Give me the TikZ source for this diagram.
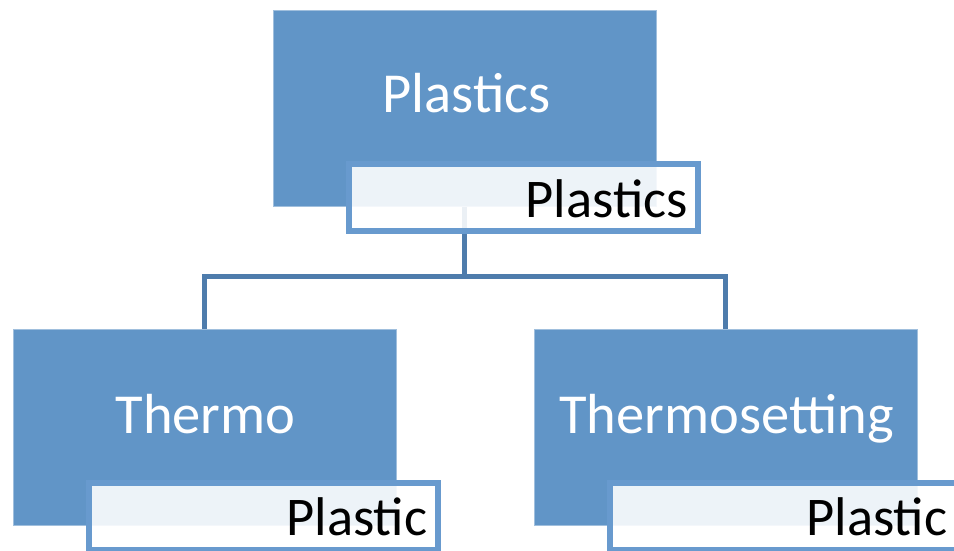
\documentclass[tikz,border=0pt]{standalone}
\usepackage{fontspec}
\setmainfont{Carlito}
\definecolor{boxblue}{RGB}{97,149,199}
\definecolor{edgeblue}{RGB}{104,154,206}
\definecolor{linkblue}{RGB}{78,124,172}
\tikzset{
  bigbox/.style={rectangle, fill=boxblue, draw=boxblue!60!white, line width=0.8pt,
    minimum width=383pt, minimum height=196pt, inner sep=0pt},
  tagbox/.style={rectangle, fill=white, fill opacity=0.89, draw=edgeblue, draw opacity=1,
    line width=6pt, minimum width=349pt, minimum height=67pt, inner sep=0pt},
  headtext/.style={text=white, font=\fontsize{56.5}{62}\selectfont, inner sep=0pt},
  tagtext/.style={text=black, font=\fontsize{54.5}{60}\selectfont, inner sep=0pt},
  link/.style={draw=linkblue, line width=5.5pt}
}
\begin{document}
\begin{tikzpicture}[x=1pt, y=-1pt]
\useasboundingbox (0,0) rectangle (954,551);
\clip (0,0) rectangle (954,551);
\fill[white] (0,0) rectangle (954,551);

% main boxes
\node[bigbox] (topbox) at (464.5,108.3) {};
\node[bigbox] (leftbox) at (204.5,427) {};
\node[bigbox] (rightbox) at (725.5,427) {};

% tree connectors
\coordinate (hub) at (464.5,276.5);
\draw[link] (topbox.south) -- (hub);
\draw[link] (hub) -| (leftbox.north);
\draw[link] (hub) -| (rightbox.north);

% translucent caption boxes
\node[tagbox] (toptag) at (523.75,197.5) {};
\node[tagbox] (lefttag) at (263,516.5) {};
\node[tagbox] (righttag) at (784.5,516.5) {};

% headings
\node[headtext, anchor=base] (toptext) at (466.5,113) {Plastics};
\node[headtext, anchor=base] (lefttext) at (205.5,433) {Thermo};
\node[headtext, anchor=base] (righttext) at (726.5,433) {Thermosetting};

% captions
\node[tagtext, anchor=base east] (toplabel) at (688,217) {Plastics};
\node[tagtext, anchor=base east] (leftlabel) at (427.5,535) {Plastic};
\node[tagtext, anchor=base east] (rightlabel) at (947.5,535) {Plastic};
\end{tikzpicture}
\end{document}
